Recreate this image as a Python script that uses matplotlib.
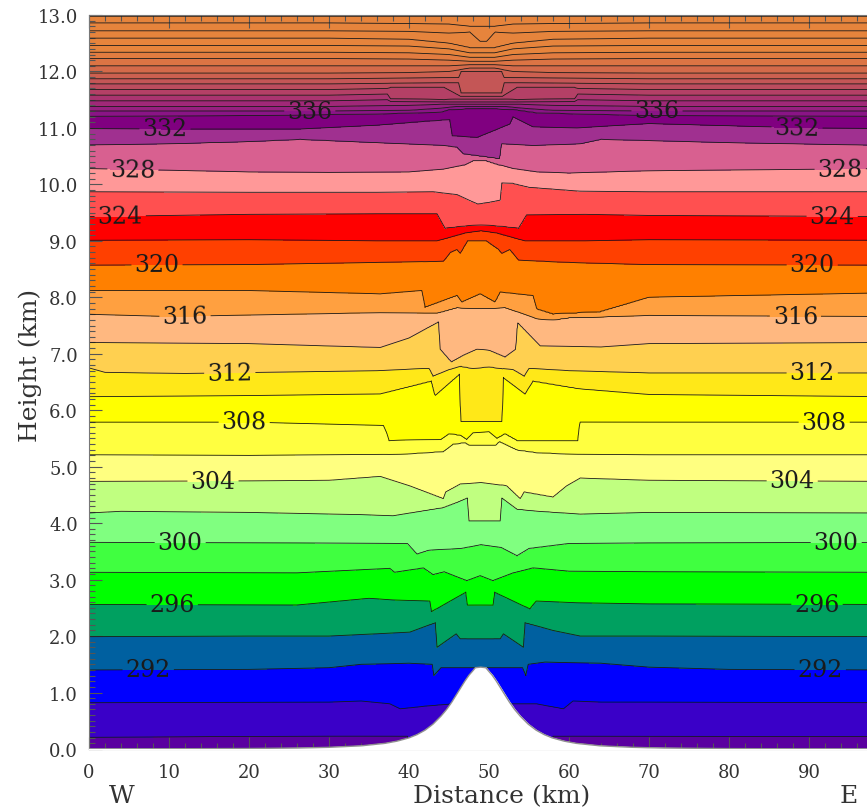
import numpy as np
import matplotlib.pyplot as plt
from matplotlib.ticker import MultipleLocator

plt.rcParams['font.family'] = ['DejaVu Serif']

#%% Datos
# Alturas (km) de cada isentropa (K), en algunos puntos x (km)
th286_x = [0, 100]
th286_z = [-1.0, -1.0]
th288_x = [0, 30, 39.8, 40.3, 57.5, 58.0, 100]
th288_z = [0.21, 0.23, 0.23, -0.3, -0.3, 0.23, 0.22]
th290_x = [0, 30, 34, 37.6, 38.9, 42, 45.3, 46.5, 51.3, 52.5, 56, 59.3, 60.5, 64, 70, 100]
th290_z = [0.82, 0.83, 0.85, 0.80, 0.71, 0.76, 0.80, 0.80, 0.80, 0.80, 0.80, 0.71, 0.85, 0.83, 0.83, 0.82]
th292_x = [0, 20, 30, 34, 40, 42.9, 43.1, 44.0, 47, 51, 54.2, 54.6, 54.9, 57, 64, 70, 80, 100]
th292_z = [1.40, 1.41, 1.44, 1.50, 1.52, 1.50, 1.30, 1.44, 1.44, 1.44, 1.44, 1.30, 1.50, 1.54, 1.52, 1.45, 1.41, 1.40]
th294_x = [0, 20, 30, 36, 40.1, 43.3, 43.5, 45.9, 46.4, 51.4, 51.8, 54.3, 54.5, 58, 61.4, 70, 100]
th294_z = [1.99, 2.00, 2.00, 2.04, 2.07, 2.24, 1.80, 2.04, 1.95, 1.95, 2.04, 1.80, 2.24, 2.10, 2.00, 2.00, 1.99]
th296_x = [0, 26, 35, 38, 42.6, 42.8, 47.1, 47.3, 50.5, 50.7, 55.1, 55.9, 61, 70, 100]
th296_z = [2.56, 2.55, 2.67, 2.64, 2.62, 2.43, 2.78, 2.55, 2.55, 2.78, 2.48, 2.62, 2.59, 2.57, 2.56]
th298_x = [0, 26, 37.6, 38.2, 41.8, 43.0, 44.4, 47.2, 48.9, 50.5, 53.0, 55.5, 60, 70, 100]
th298_z = [3.13, 3.12, 3.20, 3.13, 3.21, 3.09, 3.14, 2.98, 3.07, 2.98, 3.12, 3.21, 3.15, 3.14, 3.13]
th300_x = [0, 26, 39.8, 41.0, 42.5, 46.5, 49, 51.5, 53.5, 55.0, 60, 70, 100]
th300_z = [3.66, 3.65, 3.64, 3.45, 3.52, 3.55, 3.62, 3.57, 3.42, 3.55, 3.64, 3.65, 3.66]
th302_x = [0, 4, 20, 34, 38, 44.3, 46, 47.3, 47.5, 51.4, 51.6, 53.5, 55.5, 61.4, 70, 100]
th302_z = [4.18, 4.21, 4.19, 4.15, 4.13, 4.28, 4.37, 4.45, 4.04, 4.04, 4.45, 4.25, 4.22, 4.16, 4.19, 4.18]
th304_x = [0, 20, 30, 36.4, 40.1, 44.3, 44.6, 46.4, 49, 52.2, 53.9, 54.4, 58, 59.7, 61.4, 70, 100]
th304_z = [4.74, 4.75, 4.76, 4.83, 4.66, 4.43, 4.55, 4.69, 4.72, 4.66, 4.43, 4.55, 4.46, 4.66, 4.80, 4.76, 4.74]
th306_x = [0, 20, 38.9, 44.3, 45.5, 47.0, 47.6, 50.8, 51.3, 53.5, 56, 61, 70, 100]
th306_z = [5.21, 5.20, 5.22, 5.27, 5.40, 5.43, 5.38, 5.38, 5.45, 5.30, 5.25, 5.22, 5.21, 5.21]
th308_x = [0, 20, 36.8, 37.2, 37.5, 44, 45, 46.5, 47.2, 48, 50, 51, 52, 53.5, 61.1, 61.35, 70, 100]
th308_z = [5.79, 5.79, 5.73, 5.60, 5.46, 5.48, 5.58, 5.55, 5.48, 5.60, 5.62, 5.50, 5.58, 5.46, 5.46, 5.79, 5.79, 5.79]
th310_x = [0, 20, 36.4, 42.8, 43.25, 46.3, 46.45, 51.65, 51.8, 54.5, 55.5, 61.4, 70, 100]
th310_z = [6.24, 6.26, 6.29, 6.52, 6.26, 6.64, 5.80, 5.80, 6.58, 6.29, 6.52, 6.38, 6.28, 6.24]
th312_x = [0, 2, 12, 36, 42.5, 43.0, 45, 46.5, 48, 50, 51.5, 53, 54.4, 55, 60, 70, 100]
th312_z = [6.75, 6.67, 6.65, 6.70, 6.74, 6.60, 6.72, 6.78, 6.74, 6.77, 6.74, 6.72, 6.60, 6.74, 6.70, 6.66, 6.66]
th314_x = [0, 20, 36.4, 40, 43.7, 43.9, 45.3, 46.8, 48.5, 50, 52.0, 53.35, 53.55, 56.4, 64, 70, 100]
th314_z = [7.20, 7.18, 7.11, 7.28, 7.57, 7.08, 6.85, 6.97, 7.08, 7.06, 6.94, 7.08, 7.56, 7.14, 7.12, 7.18, 7.20]
th316_x = [0, 10, 36.4, 42, 43.5, 46, 49, 52, 54, 56, 58, 60, 70, 100]
th316_z = [7.70, 7.66, 7.73, 7.72, 7.72, 7.82, 7.80, 7.82, 7.72, 7.62, 7.60, 7.64, 7.68, 7.66]
th318_x = [0, 20, 36.4, 41.6, 42.0, 46.0, 46.6, 48.9, 50.75, 51.4, 55.5, 55.96, 58, 63.9, 70, 100]
th318_z = [8.12, 8.12, 8.06, 8.12, 7.82, 8.03, 7.91, 8.06, 7.91, 8.09, 8.03, 7.79, 7.70, 7.74, 8.00, 8.08]
th320_x = [0, 20, 36.4, 44.3, 45.2, 46.0, 46.4, 47.3, 49.7, 51.2, 51.6, 52.6, 53.7, 60, 70, 100]
th320_z = [8.57, 8.58, 8.62, 8.64, 8.80, 8.85, 8.78, 9.00, 9.00, 8.85, 8.78, 8.85, 8.66, 8.62, 8.58, 8.57]
th322_x = [0, 20, 36, 43.5, 45, 47, 49, 51, 53, 54.5, 62, 70, 100]
th322_z = [9.01, 9.02, 9.00, 9.00, 9.06, 9.14, 9.18, 9.14, 9.06, 9.00, 9.00, 9.02, 9.01]
th324_x = [0, 20, 36, 43.5, 44.5, 47, 49, 51, 53.7, 54.7, 62, 70, 100]
th324_z = [9.43, 9.47, 9.48, 9.48, 9.22, 9.26, 9.28, 9.26, 9.22, 9.46, 9.47, 9.45, 9.43]
th326_x = [0, 20, 36, 43, 46, 47.8, 48.6, 50, 51.4, 51.6, 53, 55, 61.4, 70, 100]
th326_z = [9.87, 9.86, 9.86, 9.87, 9.82, 9.70, 9.65, 9.68, 9.72, 10.03, 10.02, 9.95, 9.88, 9.87, 9.87]
th328_x = [0, 20, 30, 40, 44.3, 47, 48, 49.7, 51, 53, 56, 60, 70, 100]
th328_z = [10.28, 10.22, 10.21, 10.22, 10.27, 10.35, 10.42, 10.42, 10.36, 10.28, 10.22, 10.20, 10.24, 10.28]
th330_x = [0, 10, 20, 26.4, 36, 44.3, 46.0, 46.8, 51.35, 51.55, 55.5, 61.4, 64, 80, 100]
th330_z = [10.70, 10.72, 10.76, 10.80, 10.74, 10.69, 10.66, 10.54, 10.45, 10.72, 10.69, 10.72, 10.80, 10.74, 10.69]
th332_x = [0, 10, 26.4, 36, 42, 45.1, 45.4, 48.5, 52.6, 53.0, 55.5, 61, 70, 90, 100]
th332_z = [10.99, 10.98, 10.98, 11.05, 11.12, 11.15, 10.86, 10.83, 11.07, 11.20, 11.02, 11.00, 11.08, 11.00, 10.99]
th334_x = [0, 20, 36, 44, 45.1, 49, 53, 56, 70, 100]
th334_z = [11.21, 11.22, 11.25, 11.28, 11.33, 11.35, 11.33, 11.27, 11.22, 11.21]
th336_x = [0, 30, 40, 44, 46, 52, 54, 58, 70, 100]
th336_z = [11.30, 11.30, 11.31, 11.35, 11.38, 11.38, 11.35, 11.31, 11.30, 11.30]
th338_x = [0, 30, 40, 44, 46, 52, 54, 58, 70, 100]
th338_z = [11.38, 11.38, 11.40, 11.42, 11.42, 11.42, 11.42, 11.40, 11.38, 11.38]
th340_x = [0, 30, 37.3, 37.7, 44.4, 46.4, 51.7, 53.5, 60.7, 61.1, 70, 100]
th340_z = [11.48, 11.48, 11.50, 11.47, 11.46, 11.46, 11.46, 11.46, 11.47, 11.50, 11.48, 11.48]
th342_x = [0, 30, 37.3, 37.7, 44.4, 46.4, 51.7, 53.5, 60.7, 61.1, 70, 100]
th342_z = [11.58, 11.58, 11.60, 11.51, 11.50, 11.51, 11.51, 11.50, 11.51, 11.60, 11.58, 11.58]
th344_x = [0, 30, 37.3, 37.7, 44.4, 46.4, 51.7, 53.5, 60.7, 61.1, 70, 100]
th344_z = [11.68, 11.68, 11.70, 11.72, 11.72, 11.56, 11.56, 11.72, 11.72, 11.70, 11.68, 11.68]
th346_x = [0, 30, 44, 46.2, 46.5, 51.6, 51.9, 54, 70, 100]
th346_z = [11.78, 11.78, 11.80, 11.80, 11.62, 11.62, 11.80, 11.80, 11.78, 11.78]
th348_x = [0, 30, 44, 46.2, 46.5, 51.6, 51.9, 54, 70, 100]
th348_z = [11.87, 11.87, 11.89, 11.89, 12.00, 12.00, 11.89, 11.89, 11.87, 11.87]
th350_x = [0, 30, 40, 45, 47.6, 50.7, 53, 58, 70, 100]
th350_z = [11.97, 11.97, 11.98, 12.00, 12.06, 12.06, 12.00, 11.98, 11.97, 11.97]
th352_x = [0, 30, 40, 45, 47.6, 50.7, 53, 58, 70, 100]
th352_z = [12.10, 12.10, 12.10, 12.10, 12.12, 12.12, 12.10, 12.10, 12.10, 12.10]
th354_x = [0, 30, 40, 45, 47.6, 50.7, 53, 58, 70, 100]
th354_z = [12.23, 12.23, 12.22, 12.20, 12.18, 12.18, 12.20, 12.22, 12.23, 12.23]
th356_x = [0, 30, 40, 45, 47.6, 50.7, 53, 58, 70, 100]
th356_z = [12.34, 12.34, 12.33, 12.30, 12.25, 12.25, 12.30, 12.33, 12.34, 12.34]
th358_x = [0, 30, 40, 45, 47.6, 50.7, 53, 58, 70, 100]
th358_z = [12.46, 12.46, 12.45, 12.40, 12.33, 12.33, 12.40, 12.45, 12.46, 12.46]
th360_x = [0, 30, 40, 45, 47.6, 50.7, 53, 58, 70, 100]
th360_z = [12.59, 12.59, 12.57, 12.50, 12.42, 12.42, 12.50, 12.57, 12.59, 12.59]
th362_x = [0, 30, 40, 45, 47.6, 48.9, 49.7, 50.75, 53, 58, 70, 100]
th362_z = [12.72, 12.72, 12.71, 12.68, 12.70, 12.53, 12.53, 12.70, 12.68, 12.71, 12.72, 12.72]
th364_x = [0, 30, 40, 45, 47.6, 50.7, 53, 58, 70, 100]
th364_z = [12.86, 12.86, 12.85, 12.84, 12.80, 12.80, 12.84, 12.85, 12.86, 12.86]
th366_x = [0, 100]
th366_z = [12.97, 12.97]
th368_x = [0, 100]
th368_z = [13.60, 13.60]

# Montania (km)
monte_x = [0, 10, 20, 26, 30, 34, 37, 38.5, 40, 41, 42, 43, 44, 44.7, 45.35, 46, 46.5, 47, 47.5, 47.9,
           48.3, 48.95, 49.6, 50.0, 50.4, 50.9, 51.4, 51.9, 52.55, 53.2, 53.9, 54.9, 55.9, 56.9, 57.9,
           59.4, 60.9, 63.9, 67.9, 71.9, 80, 90, 100]
monte_z = [0.002, 0.004, 0.009, 0.017, 0.030, 0.056, 0.100, 0.139, 0.197, 0.255, 0.333, 0.440, 0.582,
           0.700, 0.831, 0.978, 1.092, 1.205, 1.307, 1.372, 1.440, 1.450, 1.440, 1.372, 1.307, 1.205,
           1.092, 0.978, 0.831, 0.700, 0.582, 0.440, 0.333, 0.255, 0.197, 0.139, 0.100, 0.056, 0.030,
           0.017, 0.007, 0.003, 0.002]

niveles = np.arange(286, 370, 2)
colores = ['#5a00a0', '#3a00c8', '#0000ff', '#0060a0', '#00a060', '#00ff00', '#40ff40', '#80ff80',
           '#c0ff80', '#ffff80', '#ffff40', '#ffff00', '#ffe818', '#ffd050', '#ffb880', '#ffa040',
           '#ff8000', '#ff4000', '#ff0000', '#ff5050', '#ff9898', '#d86090', '#a03090', '#800080',
           '#8a1486', '#962080', '#a02878', '#aa3470', '#b44066', '#bc4c5e', '#c45656', '#cc6050',
           '#d46a4a', '#dc7444', '#e27c40', '#e6843c', '#e6843c', '#e6843c', '#e6843c', '#e6843c',
           '#e6843c']

etiquetas = [292, 296, 300, 304, 308, 312, 316, 320, 324, 328, 332, 336]
etiquetas_pos = [(7.4, 1.40), (91.4, 1.40), (10.4, 2.56), (91.0, 2.56), (11.4, 3.66), (93.4, 3.66),
                 (15.5, 4.75), (87.9, 4.74), (19.4, 5.79), (91.9, 5.79), (17.6, 6.65), (90.4, 6.66),
                 (12.0, 7.66), (88.3, 7.66), (8.5, 8.57), (90.4, 8.57), (3.9, 9.43), (92.9, 9.43),
                 (5.5, 10.28), (93.9, 10.28), (9.5, 10.98), (88.5, 11.0), (27.6, 11.30), (71.0, 11.30)]

xticks = np.arange(0, 101, 10)
xtick_labels = ["%d" % v for v in xticks[:-1]] + [""]
yticks = np.arange(0, 13.1, 1.0)

#%% Campo de temperatura potencial

xs = [globals()["th%d_x" % n] for n in niveles]
zs = [globals()["th%d_z" % n] for n in niveles]

xg = np.linspace(0, 100, 1001)
zg = np.linspace(0, 13, 651)
H = np.array([np.interp(xg, xs[i], zs[i]) for i in range(len(niveles))])
for i in range(1, len(H)):
    H[i] = np.maximum(H[i], H[i - 1] + 1e-3)

TH = np.empty((len(zg), len(xg)))
for j in range(len(xg)):
    TH[:, j] = np.interp(zg, H[:, j], niveles)

#%% Grafico

fig = plt.figure(figsize=(8.67, 8.12), dpi=100)
ax = fig.add_axes([89 / 867, 62 / 812, 800 / 867, 734 / 812])

ax.contourf(xg, zg, TH, levels=niveles, colors=colores)
sin_etiqueta = [n for n in niveles[1:-1] if n not in etiquetas]
ax.contour(xg, zg, TH, levels=sin_etiqueta, colors='#1a1a1a', linewidths=0.6)
cs = ax.contour(xg, zg, TH, levels=etiquetas, colors='#1a1a1a', linewidths=0.6)
ax.clabel(cs, manual=etiquetas_pos, fmt='%d', fontsize=17,
          inline=True, inline_spacing=3, colors='#1a1a1a')

ax.fill_between(monte_x, -0.1, monte_z, color='white', zorder=3)
ax.plot(monte_x, monte_z, color='#909090', lw=1.0, zorder=4)

ax.set_xlim(0, 100)
ax.set_ylim(0, 13)
ax.set_xticks(xticks)
ax.set_xticklabels(xtick_labels)
ax.set_yticks(yticks)
ax.set_yticklabels(["%.1f" % v for v in yticks])
ax.xaxis.set_minor_locator(MultipleLocator(2))
ax.yaxis.set_minor_locator(MultipleLocator(0.1))
ax.tick_params(which='both', direction='in', top=True, right=True, colors='#555555',
               labelcolor='#333333', labelsize=13, width=0.8)
ax.tick_params(which='major', length=9)
ax.tick_params(which='minor', length=4)
ax.tick_params(axis='x', pad=10)
ax.tick_params(axis='y', pad=8)
for s in ax.spines.values():
    s.set_color('#777777')

ax.text(0.516, -0.064, "Distance (km)", transform=ax.transAxes, ha='center', va='center',
        fontsize=18, color='#333333')
ax.text(-0.074, 0.5245, "Height (km)", transform=ax.transAxes, ha='center', va='center',
        rotation=90, fontsize=18, color='#333333')
ax.text(0.041, -0.064, "W", transform=ax.transAxes, ha='center', va='center', fontsize=18,
        color='#333333')
ax.text(0.949, -0.064, "E", transform=ax.transAxes, ha='center', va='center', fontsize=18,
        color='#333333')

fig.savefig("out.png", dpi=100)
